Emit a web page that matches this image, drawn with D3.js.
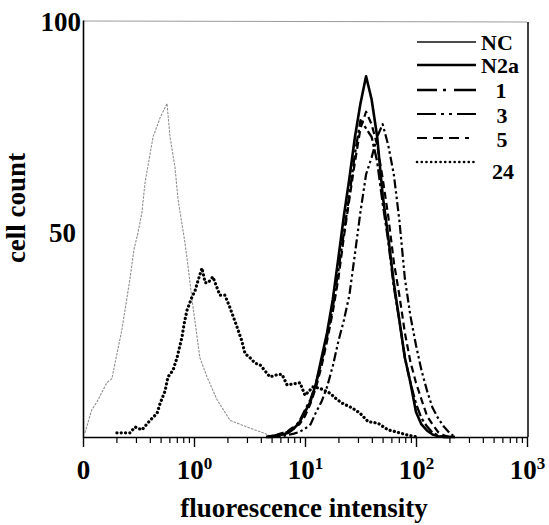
<!DOCTYPE html>
<html>
<head>
<meta charset="utf-8">
<script src="https://cdn.jsdelivr.net/npm/d3@7"></script>
<style>
  html, body { margin: 0; padding: 0; background: #fff; }
  svg { display: block; }
  text { font-family: "Liberation Serif", "DejaVu Serif", serif; font-weight: bold; fill: #000; }
</style>
</head>
<body>
<svg id="chart" width="549" height="525"></svg>
<script>
// ---------------- DATA ----------------
// NC (unstained control)
const intensityNC = [0.104, 0.120, 0.134, 0.164, 0.182, 0.224, 0.265, 0.288, 0.313, 0.340, 0.362, 0.385, 0.428, 0.494, 0.548, 0.571, 0.608, 0.675, 0.718, 0.780, 0.830, 0.883, 0.960, 1.13, 1.31, 1.61, 2.11, 3.00, 4.19, 5.15];
const countNC     = [1, 6.5, 8.5, 13, 14, 25.7, 38, 45, 49, 54, 61, 65, 72, 76.5, 79, 80, 72, 64.5, 57, 51, 46.5, 41, 33, 19, 14.4, 9, 4, 2.4, 1, 0];

// 24 h
const intensity24 = [0.202, 0.265, 0.294, 0.340, 0.402, 0.465, 0.494, 0.548, 0.583, 0.647, 0.703, 0.780, 0.813, 0.865, 0.960, 1.02, 1.09, 1.18, 1.26, 1.34, 1.48, 1.71, 1.90, 2.11, 2.44, 2.70, 2.88, 3.20, 3.55, 3.94, 4.84, 5.71, 6.21, 6.89, 9.02, 10.0, 11.8, 13.6, 16.8, 19.4, 22.0, 26.5, 31.3, 37.0, 45.5, 56.0, 64.7, 83.0, 102];
const count24     = [1, 1, 2.4, 1.7, 4, 5.7, 8, 11, 14.4, 16, 19, 24, 27, 30.4, 33.6, 35, 37.6, 40.5, 37, 37, 38.4, 34, 34, 31, 26.4, 23, 20, 19, 17.7, 17.3, 14.4, 15, 15, 12.5, 13, 10, 12, 11.7, 10.5, 9, 8, 7, 5.7, 3.7, 3.3, 1.7, 1.3, 0.5, 0];

// shared channel grid for N2a, 1, 3, 5
const intensityGrid = [4.47, 5.01, 5.62, 6.31, 7.08, 7.94, 8.91, 10.0, 11.2, 12.6, 14.1, 15.8, 17.8, 20.0, 22.4, 25.1, 28.2, 31.6, 35.5, 39.8, 44.7, 50.1, 56.2, 63.1, 70.8, 79.4, 89.1, 100, 112, 126, 141, 158, 178, 200, 224];
const countN2a = [0, 0, 0.3, 0.6, 1, 2, 3.5, 6, 8.5, 13, 19, 25, 33, 43, 53, 62, 72, 80, 86.5, 81, 72, 58, 48, 37, 28, 19, 13, 6, 3, 1.5, 0.6, 0.2, 0, 0, 0];
const count1   = [0, 0.2, 0.5, 0.8, 1.3, 2.2, 3.8, 6.5, 9, 13, 18, 24, 31, 40, 49, 58, 68, 76, 74, 72, 66, 56, 47, 36, 28, 19, 13, 8, 4.5, 2.5, 1, 0.4, 0, 0, 0];
const count3   = [0, 0, 0, 0.2, 0.5, 0.8, 1.2, 2, 3, 6, 8.5, 12, 17, 23, 28, 34, 44, 54, 63, 67, 72, 75, 70, 63, 52, 38, 29, 22, 16, 11, 7, 4.5, 2.5, 1, 0];
const count5   = [0, 0.3, 0.6, 1, 1.5, 2.5, 3, 5, 8, 12, 17, 23, 30, 38, 48, 57, 66, 74, 78, 75, 70, 62, 53, 42, 34, 25, 18, 13, 9, 5, 3, 1.2, 0.4, 0, 0];

const seriesNames = ["NC", "N2a", "1", "3", "5", "24"];

const xTickValues = [0.1, 1, 10, 100, 1000];
const xTickBase   = ["0", "10", "10", "10", "10"];
const xTickExp    = ["", "0", "1", "2", "3"];
const yTickValues = [100, 50];
const yTickLabels = ["100", "50"];

// ---------------- STYLES ----------------
const styles = {
  "NC":  { color: "#8f8f8f", width: 1.1, dash: "2.5,1.2", legendColor: "#111", legendWidth: 1.6, legendDash: null },
  "N2a": { color: "#000", width: 2.6, dash: null, legendColor: "#000", legendWidth: 2.6, legendDash: null },
  "1":   { color: "#000", width: 2.3, dash: "11,3,3,3", legendColor: "#000", legendWidth: 2.3, legendDash: "20,6,3,8,30" },
  "3":   { color: "#000", width: 2.2, dash: "9,3,2.5,3,2.5,3", legendColor: "#000", legendWidth: 2.2, legendDash: "19,5,3,5,3,5,30" },
  "5":   { color: "#000", width: 2.2, dash: "7,4", legendColor: "#000", legendWidth: 2.2, legendDash: "10,6,10,6,10,6,4,20" },
  "24":  { color: "#000", width: 3.2, dash: "0.1,4.2", cap: "round", legendColor: "#000", legendWidth: 2.6, legendDash: "0.1,4.6", legendCap: "round" }
};

// ---------------- CHART ----------------
const svg = d3.select("#chart");
const pLeft = 83, pRight = 527, pTop = 20, pBottom = 437;

const x = d3.scaleLog().domain([0.1, 1000]).range([pLeft, pRight]);
const y = d3.scaleLinear().domain([0, 100]).range([pBottom, pTop]);

const seriesData = {
  "NC":  intensityNC.map((v, i) => [v, countNC[i]]),
  "24":  intensity24.map((v, i) => [v, count24[i]]),
  "N2a": intensityGrid.map((v, i) => [v, countN2a[i]]),
  "1":   intensityGrid.map((v, i) => [v, count1[i]]),
  "3":   intensityGrid.map((v, i) => [v, count3[i]]),
  "5":   intensityGrid.map((v, i) => [v, count5[i]])
};

// frame: top (light) and right
svg.append("line").attr("x1", pLeft).attr("x2", pRight).attr("y1", pTop + 1).attr("y2", pTop + 2)
  .attr("stroke", "#9a9a9a").attr("stroke-width", 1);
svg.append("line").attr("x1", pRight + 1).attr("x2", pRight + 1).attr("y1", pTop + 2).attr("y2", pBottom)
  .attr("stroke", "#000").attr("stroke-width", 1.5);

// curves
const line = d3.line().x(d => x(d[0])).y(d => y(d[1]));
const drawOrder = ["NC", "24", "3", "5", "1", "N2a"];
drawOrder.forEach(name => {
  const s = styles[name];
  svg.append("path")
    .datum(seriesData[name])
    .attr("d", line)
    .attr("fill", "none")
    .attr("stroke", s.color)
    .attr("stroke-width", s.width)
    .attr("stroke-dasharray", s.dash)
    .attr("stroke-linecap", s.cap || "butt")
    .attr("stroke-linejoin", "round");
});

// x axis: minor ticks
const minorTicks = [];
[0.1, 1, 10, 100].forEach(d => { for (let k = 2; k <= 9; k++) minorTicks.push(d * k); });
svg.append("g").attr("transform", `translate(0,${pBottom})`)
  .call(d3.axisBottom(x).tickValues(minorTicks).tickSize(6).tickSizeOuter(0).tickFormat(""))
  .call(g => g.select(".domain").remove())
  .call(g => g.selectAll(".tick line").attr("stroke", "#000").attr("stroke-width", 1.2));

// x axis: major ticks + labels
const xAxisG = svg.append("g").attr("transform", `translate(0,${pBottom})`)
  .call(d3.axisBottom(x).tickValues(xTickValues).tickSize(10).tickSizeOuter(0).tickFormat(""));
xAxisG.select(".domain").attr("stroke", "#000").attr("stroke-width", 1.6);
xAxisG.selectAll(".tick line").attr("stroke", "#000").attr("stroke-width", 1.4);
xAxisG.selectAll(".tick").each(function (d, i) {
  const t = d3.select(this).append("text")
    .attr("y", 42).attr("text-anchor", "middle")
    .style("font-size", "27px").attr("fill", "#000");
  t.append("tspan").text(xTickBase[i]);
  if (xTickExp[i]) t.append("tspan").attr("dy", -10).style("font-size", "17px").text(xTickExp[i]);
});

// y axis line (no ticks)
svg.append("g").attr("transform", `translate(${pLeft},0)`)
  .call(d3.axisLeft(y).tickValues([]).tickSizeOuter(0))
  .call(g => g.select(".domain").attr("stroke", "#000").attr("stroke-width", 1.6));

// y labels
const yLabelX = [81, 76];
const yLabelDy = [11, 13];
yTickValues.forEach((v, i) => {
  svg.append("text").attr("x", yLabelX[i]).attr("y", y(v) + yLabelDy[i])
    .attr("text-anchor", "end").style("font-size", "27px").text(yTickLabels[i]);
});

// axis titles
svg.append("text").attr("x", 304).attr("y", 517).attr("text-anchor", "middle")
  .style("font-size", "27px").text("fluorescence intensity");
svg.append("text").attr("transform", "translate(25,208) rotate(-90)").attr("text-anchor", "middle")
  .style("font-size", "27px").text("cell count");

// legend
const legendLineY = [42, 65, 90, 114, 138, 162];
const legendTextY = [50, 73, 98, 123, 147, 179];
const legendAnchor = ["start", "start", "middle", "middle", "middle", "middle"];
const legendTextX = [481, 481, 501, 502, 502, 503];
seriesNames.forEach((name, i) => {
  const s = styles[name];
  svg.append("line").attr("x1", 417).attr("x2", 476)
    .attr("y1", legendLineY[i]).attr("y2", legendLineY[i])
    .attr("stroke", s.legendColor).attr("stroke-width", s.legendWidth)
    .attr("stroke-dasharray", s.legendDash).attr("stroke-linecap", s.legendCap || "butt");
  svg.append("text").attr("x", legendTextX[i]).attr("y", legendTextY[i])
    .attr("text-anchor", legendAnchor[i]).style("font-size", "22px").text(name);
});
</script>
</body>
</html>
